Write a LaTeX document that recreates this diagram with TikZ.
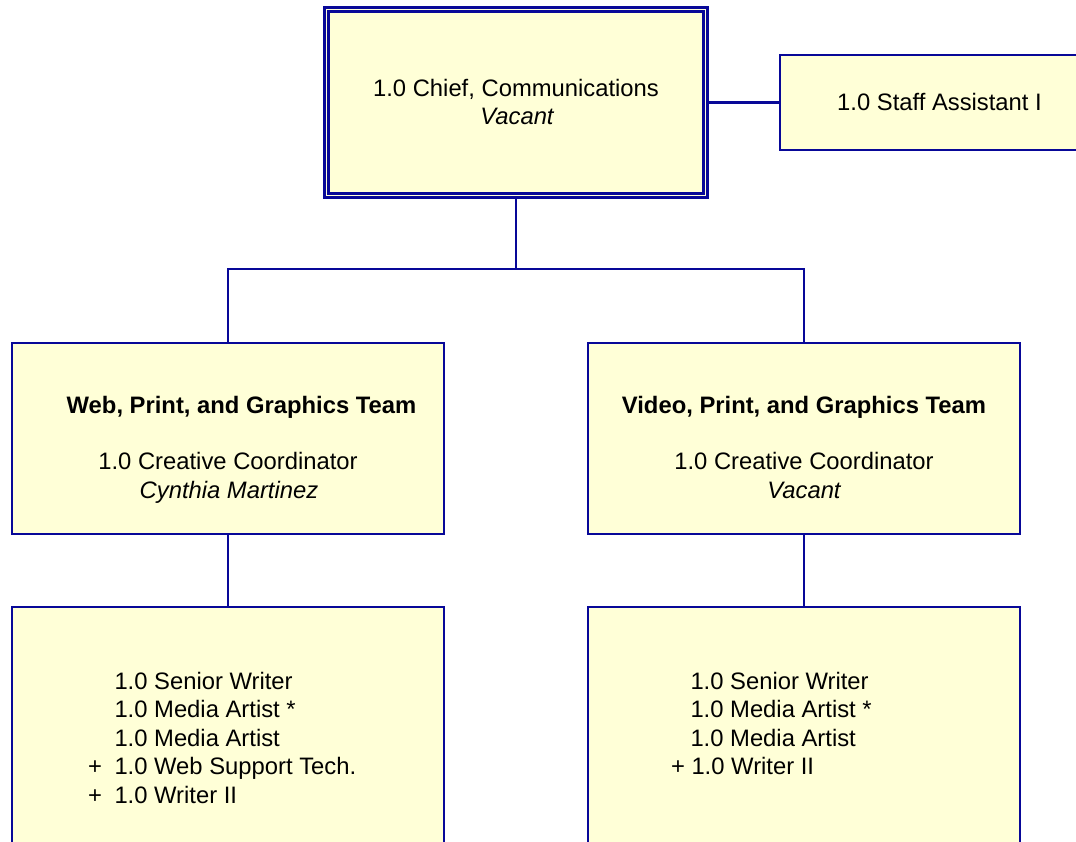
\documentclass[tikz,border=0pt]{standalone}
\usepackage{fontspec}
\setmainfont{Liberation Sans}
\usetikzlibrary{backgrounds}
\definecolor{boxline}{RGB}{8,8,152}
\definecolor{boxfill}{RGB}{255,255,215}
\begin{document}
\begin{tikzpicture}[x=1pt,y=-1pt,
  box/.style={draw=boxline, fill=boxfill, line width=2.4pt, rectangle, inner sep=0pt, outer sep=0pt},
  chiefbox/.style={draw=boxline, double=boxfill, double distance=1.8pt, line width=2.2pt, fill=boxfill, rectangle, inner sep=0pt, outer sep=0pt},
  link/.style={draw=boxline, line width=2.4pt},
  txt/.style={inner sep=0pt, outer sep=0pt, anchor=base, text=black, font=\fontsize{23.8}{28.75}\selectfont},
  ltxt/.style={txt, anchor=base west}]
\useasboundingbox (0,0) rectangle (1076,841);
\clip (0,0) rectangle (1076,841);

% boxes
\node[chiefbox, minimum width=379pt, minimum height=186pt] (chief) at (516,102.5) {};
\node[box, minimum width=319pt, minimum height=95pt] (staff) at (939.5,102.5) {};
\node[box, minimum width=432pt, minimum height=191pt] (webteam) at (228,438.5) {};
\node[box, minimum width=432pt, minimum height=191pt] (videoteam) at (804,438.5) {};
\node[box, minimum width=432pt, minimum height=260pt] (webstaff) at (228,737) {};
\node[box, minimum width=432pt, minimum height=260pt] (videostaff) at (804,737) {};

% connectors
\begin{scope}[on background layer]
  \coordinate (split) at (516,269);
  \draw[link] (chief.east) -- (staff.west);
  \draw[link] (chief.south) -- (split);
  \draw[link] (split) -| (webteam.north);
  \draw[link] (split) -| (videoteam.north);
  \draw[link] (webteam.south) -- (webstaff.north);
  \draw[link] (videoteam.south) -- (videostaff.north);
\end{scope}

% chief
\node[txt] (chieft1) at (516,96.5) {1.0 Chief, Communications};
\node[txt] (chieft2) at (517,124) {\itshape Vacant};

% staff assistant
\node[txt] (stafft) at (939.5,110) {1.0 Staff Assistant I};

% web team
\node[txt] (webtitle) at (241.5,413) {\bfseries Web, Print, and Graphics Team};
\node[txt] (webt1) at (228,469) {1.0 Creative Coordinator};
\node[txt] (webt2) at (229,498) {\itshape Cynthia Martinez};

% video team
\node[txt] (vidtitle) at (804,413) {\bfseries Video, Print, and Graphics Team};
\node[txt] (vidt1) at (804,469) {1.0 Creative Coordinator};
\node[txt] (vidt2) at (804,498) {\itshape Vacant};

% web team staff
\node[ltxt] (ws1) at (114.5,689) {1.0 Senior Writer};
\node[ltxt] (ws2) at (114.5,717.5) {1.0 Media Artist *};
\node[ltxt] (ws3) at (114.5,746) {1.0 Media Artist};
\node[ltxt] (ws4p) at (88,774.5) {+};
\node[ltxt] (ws4) at (114.5,774.5) {1.0 Web Support Tech.};
\node[ltxt] (ws5p) at (88,803) {+};
\node[ltxt] (ws5) at (114.5,803) {1.0 Writer II};

% video team staff
\node[ltxt] (vs1) at (690.5,689) {1.0 Senior Writer};
\node[ltxt] (vs2) at (690.5,717.5) {1.0 Media Artist *};
\node[ltxt] (vs3) at (690.5,746) {1.0 Media Artist};
\node[ltxt] (vs4) at (671,774.5) {+ 1.0 Writer II};
\end{tikzpicture}
\end{document}
